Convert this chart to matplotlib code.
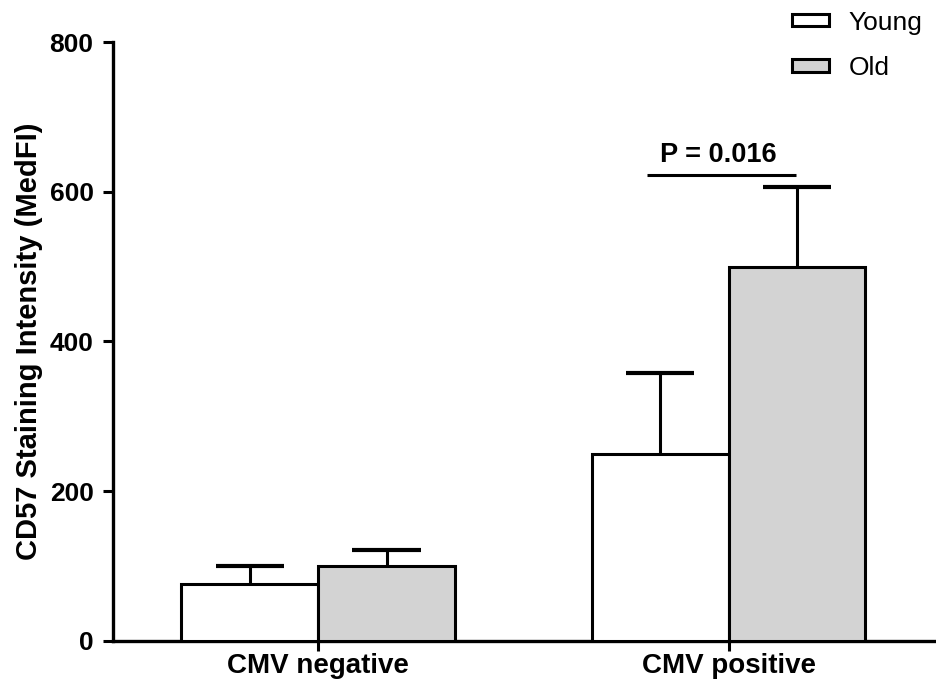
import matplotlib.pyplot as plt
from matplotlib.patches import Patch
import numpy as np

plt.rcParams["font.family"] = ["Liberation Sans", "DejaVu Sans"]

# CD57 median fluorescence by CMV status
groups = ["CMV negative", "CMV positive"]
young_mean = [76, 250]
young_sem = [24, 108]
old_mean = [100, 500]
old_sem = [22, 107]
y_ticks = [0, 200, 400, 600, 800]
p_label = "P = 0.016"

x = np.arange(len(groups))
width = 1 / 3
lw = 2.2

fig = plt.figure(figsize=(9.36, 6.91), dpi=100)
ax = fig.add_axes([0.1207, 0.0724, 0.877, 0.8668])

young_x = x - width / 2
old_x = x + width / 2
ax.bar(young_x, young_mean, width, color="white", edgecolor="black", linewidth=lw, zorder=3)
ax.bar(old_x, old_mean, width, color="#d3d3d3", edgecolor="black", linewidth=lw, zorder=3)

# upper-only error bars
for xs, m, e in [(young_x, young_mean, young_sem), (old_x, old_mean, old_sem)]:
    tops = np.array(m) + np.array(e)
    ax.vlines(xs, m, tops, color="black", linewidth=lw, zorder=2)
    ax.hlines(tops, xs - width / 4, xs + width / 4, color="black", linewidth=lw + 0.8, zorder=2)

# significance marker over the CMV positive pair
ax.hlines(623, 0.80, 1.165, color="black", linewidth=2.2, clip_on=False)
ax.text(0.975, 632, p_label, ha="center", va="bottom", fontsize=19.5, fontweight="bold")

ax.set_xlim(-0.5, 1.5)
ax.set_ylim(0, 800)
ax.set_xticks(x)
ax.set_xticklabels(groups, fontsize=20, fontweight="bold")
ax.set_yticks(y_ticks)
ax.set_yticklabels([str(t) for t in y_ticks], fontsize=19, fontweight="bold")
ax.set_ylabel("CD57 Staining Intensity (MedFI)", fontsize=21, fontweight="bold", labelpad=5)
ax.tick_params(axis="both", direction="out", width=2.2, length=7)
ax.tick_params(axis="y", pad=7)
ax.tick_params(axis="x", pad=2)

for side in ["top", "right"]:
    ax.spines[side].set_visible(False)
for side in ["left", "bottom"]:
    ax.spines[side].set_linewidth(2.4)

handles = [
    Patch(facecolor="white", edgecolor="black", linewidth=2.2, label="Young"),
    Patch(facecolor="#d3d3d3", edgecolor="black", linewidth=2.2, label="Old"),
]
ax.legend(handles=handles, loc="upper left", bbox_to_anchor=(0.835, 1.0),
          bbox_transform=fig.transFigure, frameon=False, fontsize=19,
          handlelength=1.4, handleheight=0.36, handletextpad=0.75, labelspacing=0.8,
          borderaxespad=0)

fig.savefig("out.png", dpi=100)
